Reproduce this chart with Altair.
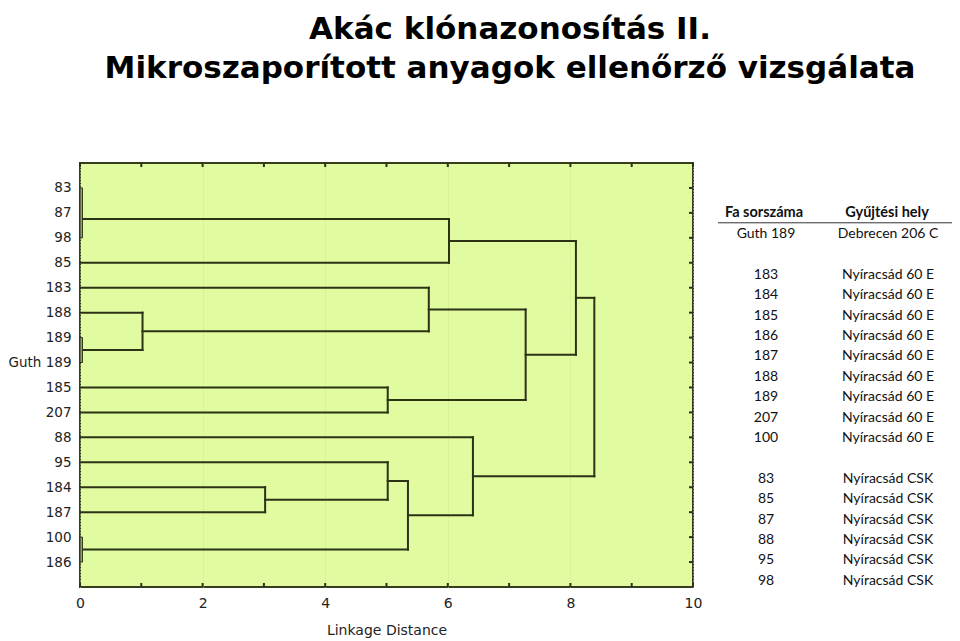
import altair as alt
import pandas as pd

# ---------------- data ----------------
title_lines = ["Akác klónazonosítás II.", "Mikroszaporított anyagok ellenőrző vizsgálata"]

leaves = ["83", "87", "98", "85", "183", "188", "189", "Guth 189",
          "185", "207", "88", "95", "184", "187", "100", "186"]

# merges (ids >= 16 refer to earlier merges: id = 16 + merge index)
merge_a = [0, 16, 17, 6, 5, 4, 8, 21, 18, 12, 11, 14, 26, 10, 24]
merge_b = [1, 2, 3, 7, 19, 20, 9, 22, 23, 13, 25, 15, 27, 28, 29]
merge_h = [0, 0, 6.02, 0, 1.02, 5.69, 5.02, 7.27, 8.09, 3.02, 5.02, 0, 5.35, 6.41, 8.39]

x_ticks = [0, 2, 4, 6, 8, 10]
x_minor = list(range(0, 11))

table_header = ["Fa sorszáma", "Gyűjtési hely"]
table_fa = ["Guth 189", "183", "184", "185", "186", "187", "188", "189", "207", "100",
            "83", "85", "87", "88", "95", "98"]
table_hely = ["Debrecen 206 C"] + ["Nyíracsád 60 E"] * 9 + ["Nyíracsád CSK"] * 6
table_slot = [0, 2, 3, 4, 5, 6, 7, 8, 9, 10, 12, 13, 14, 15, 16, 17]

# ---------------- dendrogram geometry from merges ----------------
n = len(leaves)
height = {i: 0.0 for i in range(n)}
center = {i: float(i) for i in range(n)}
members = {i: [i] for i in range(n)}
parent_h = {}
segs = []
for k, (a, b, h) in enumerate(zip(merge_a, merge_b, merge_h)):
    cid = n + k
    height[cid] = h
    center[cid] = (center[a] + center[b]) / 2
    members[cid] = members[a] + members[b]
    parent_h[a] = h
    parent_h[b] = h
    if h > 0:
        for c in (a, b):
            segs.append({"x1": height[c], "x2": h, "y1": center[c], "y2": center[c]})
        segs.append({"x1": h, "x2": h, "y1": center[a], "y2": center[b]})
seg_df = pd.DataFrame(segs)

boxes = []
for cid in range(n, n + len(merge_h)):
    if height[cid] == 0 and parent_h.get(cid, 1) > 0:
        boxes.append({"x1": 0.0, "x2": 0.04, "y1": min(members[cid]), "y2": max(members[cid])})
box_df = pd.DataFrame(boxes)

W, H = 613, 424
LINE = "#2b3216"

xscale = alt.Scale(domain=[0, 10], nice=False, zero=False)
yscale = alt.Scale(domain=[-1, 16], nice=False, zero=False, reverse=True)
tscale = alt.Scale(domain=[-3.48, 17.3], nice=False, zero=False, reverse=True)

label_expr = "[" + ",".join("'" + l + "'" for l in leaves) + "][datum.value]"

xaxis = alt.Axis(values=x_ticks, format="d", ticks=False, domain=False, grid=True,
                 gridColor="#c6dc88", gridDash=[1, 2], gridWidth=1,
                 labelPadding=9, labelFont="DejaVu Sans", labelFontSize=14, labelColor="#222",
                 labelFlush=False,
                 title="Linkage Distance", titleFont="DejaVu Sans", titleFontSize=14,
                 titleFontWeight="normal", titleColor="#222", titlePadding=13)
yaxis = alt.Axis(values=list(range(n)), labelExpr=label_expr, ticks=False, domain=False,
                 grid=False, labelPadding=9, labelFont="DejaVu Sans", labelFontSize=13.5,
                 labelColor="#222", labelOverlap=False, title=None)

segments = alt.Chart(seg_df).mark_rule(stroke=LINE, strokeWidth=2, strokeCap="square").encode(
    x=alt.X("x1:Q", scale=xscale, axis=xaxis), x2="x2:Q",
    y=alt.Y("y1:Q", scale=yscale, axis=yaxis), y2="y2:Q")

box_layer = alt.Chart(box_df).mark_rect(fill="#98a678", stroke=LINE, strokeWidth=1).encode(
    x=alt.X("x1:Q", scale=xscale, axis=xaxis), x2="x2:Q",
    y=alt.Y("y1:Q", scale=yscale, axis=None), y2="y2:Q")

xt_df = pd.DataFrame({"x1": x_minor})
top_ticks = alt.Chart(xt_df).mark_rule(stroke=LINE, strokeWidth=2).encode(
    x=alt.X("x1:Q", scale=xscale, axis=xaxis), y=alt.value(0), y2=alt.value(4))
bot_ticks = alt.Chart(xt_df).mark_rule(stroke=LINE, strokeWidth=2).encode(
    x=alt.X("x1:Q", scale=xscale, axis=xaxis), y=alt.value(H - 4), y2=alt.value(H))
yt_df = pd.DataFrame({"y1": list(range(n))})
right_ticks = alt.Chart(yt_df).mark_rule(stroke=LINE, strokeWidth=2).encode(
    y=alt.Y("y1:Q", scale=yscale, axis=None), x=alt.value(W - 4), x2=alt.value(W))

# ---------------- table ----------------
tab_df = pd.DataFrame({"fa": table_fa, "hely": table_hely, "slot": table_slot})
hdr_df = pd.DataFrame({"fa": [table_header[0]], "hely": [table_header[1]], "slot": [-1.03]})
TFONT = "Lato"
col1 = alt.Chart(tab_df).mark_text(font=TFONT, fontSize=14, align="center", baseline="middle",
                                   color="#111").encode(
    x=alt.value(686), y=alt.Y("slot:Q", scale=tscale, axis=None), text="fa:N")
col2 = alt.Chart(tab_df).mark_text(font=TFONT, fontSize=14, align="center", baseline="middle",
                                   color="#111").encode(
    x=alt.value(808), y=alt.Y("slot:Q", scale=tscale, axis=None), text="hely:N")
hdr1 = alt.Chart(hdr_df).mark_text(font=TFONT, fontSize=14.5, fontWeight="bold", align="center",
                                   baseline="middle", color="#111").encode(
    x=alt.value(684), y=alt.Y("slot:Q", scale=tscale, axis=None), text="fa:N")
hdr2 = alt.Chart(hdr_df).mark_text(font=TFONT, fontSize=14.5, fontWeight="bold", align="center",
                                   baseline="middle", color="#111").encode(
    x=alt.value(807), y=alt.Y("slot:Q", scale=tscale, axis=None), text="hely:N")
uline = alt.Chart(pd.DataFrame({"slot": [-0.55]})).mark_rule(stroke="#333", strokeWidth=1).encode(
    y=alt.Y("slot:Q", scale=tscale, axis=None), x=alt.value(638), x2=alt.value(880))

# ---------------- title ----------------
t1 = alt.Chart(pd.DataFrame({"t": [title_lines[0]]})).mark_text(
    font="DejaVu Sans", fontSize=31, fontWeight="bold", align="center", baseline="alphabetic",
    color="#000").encode(text="t:N", x=alt.value(430), y=alt.value(-124))
t2 = alt.Chart(pd.DataFrame({"t": [title_lines[1]]})).mark_text(
    font="DejaVu Sans", fontSize=31, fontWeight="bold", align="center", baseline="alphabetic",
    color="#000").encode(text="t:N", x=alt.value(430), y=alt.value(-85))

chart = alt.layer(
    segments, box_layer, top_ticks, bot_ticks, right_ticks,
    uline, hdr1, hdr2, col1, col2, t1, t2
).resolve_scale(y="independent").properties(
    width=W, height=H,
    autosize=alt.AutoSizeParams(type="none"),
    padding={"left": 72, "top": 155, "right": 259, "bottom": 54},
    background="white",
).configure_view(fill="#e1fba1", stroke="#343d1c", strokeWidth=2)

chart.save("out.html", embed_options={"renderer": "svg", "actions": False})
